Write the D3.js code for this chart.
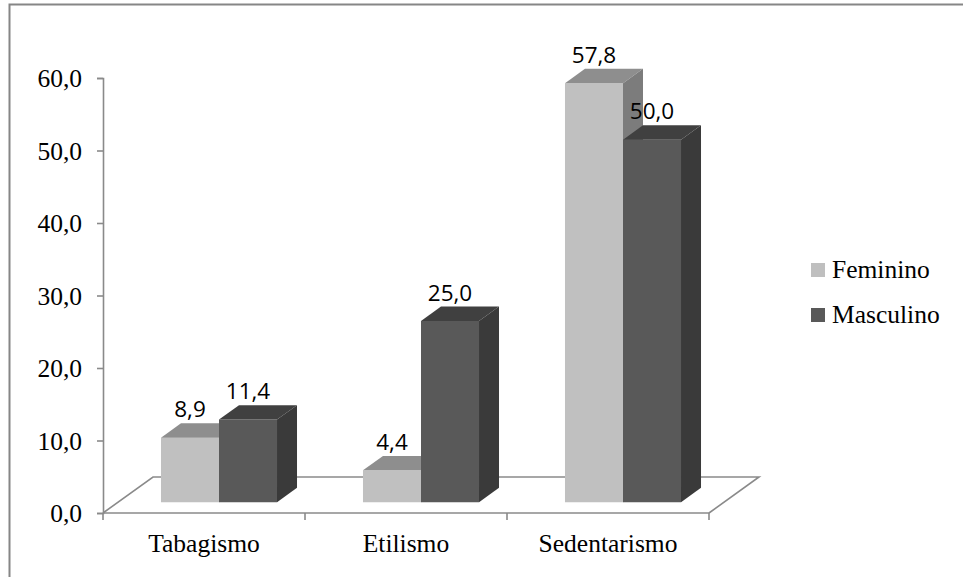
<!DOCTYPE html>
<html>
<head>
<meta charset="utf-8">
<script src="https://cdn.jsdelivr.net/npm/d3@7/dist/d3.min.js"></script>
<style>
  html, body { margin: 0; padding: 0; background: #fff; }
  svg { display: block; }
</style>
</head>
<body>
<svg id="chart" width="963" height="577"></svg>
<script>
// Data
const categories = ["Tabagismo", "Etilismo", "Sedentarismo"];
const seriesNames = ["Feminino", "Masculino"];
const feminino = [8.9, 4.4, 57.8];
const masculino = [11.4, 25.0, 50.0];
const yTicks = [0, 10, 20, 30, 40, 50, 60];

const seriesValues = [feminino, masculino];
const fmt = v => v.toFixed(1).replace(".", ",");

// Shading per series: front, top, side faces
const faceColors = [
  { front: "#c0c0c0", top: "#8e8e8e", side: "#7c7c7c", legend: "#bfbfbf" },
  { front: "#595959", top: "#404040", side: "#3a3a3a", legend: "#595959" }
];

const svg = d3.select("#chart");

// Outer frame
svg.append("rect")
  .attr("x", 9.5).attr("y", 4.5)
  .attr("width", 1000).attr("height", 600)
  .attr("fill", "none").attr("stroke", "#868686").attr("stroke-width", 2);

// Plot geometry
const x0 = d3.scaleBand().domain(categories).range([103, 709]);
const x1 = d3.scaleBand().domain(seriesNames).range([0, x0.bandwidth()]).paddingOuter(0.741);
const y = d3.scaleLinear().domain([0, 60]).range([513, 78]);
// Oblique depth vector of the floor
const depth = { dx: 50, dy: -36 };
const zFront = 0.3, zBack = 0.7;
const P = (px, v, z) => [px + z * depth.dx, y(v) + z * depth.dy];

const axisColor = "#8a8a8a";

// Floor
const floorLines = svg.append("g").attr("fill", "none").attr("stroke", axisColor).attr("stroke-width", 1.6);
const [xl, xr] = x0.range();
floorLines.append("path").attr("d", d3.line()([P(xl, 0, 0), P(xl, 0, 1), P(xr, 0, 1), P(xr, 0, 0)]));

// Y axis
const yAxis = d3.axisLeft(y).tickValues(yTicks).tickSize(6).tickPadding(15).tickFormat(fmt);
const gy = svg.append("g").attr("transform", `translate(${xl},0)`).call(yAxis);
gy.select(".domain").attr("stroke", axisColor).attr("stroke-width", 1.6);
gy.selectAll(".tick line").attr("stroke", axisColor).attr("stroke-width", 1.6);
gy.selectAll(".tick text")
  .attr("font-family", "'Liberation Serif', 'Times New Roman', serif")
  .attr("font-size", 25.5).attr("fill", "#000").attr("dy", "0.34em");

// X axis (front edge of floor)
const gx = svg.append("g").attr("transform", `translate(0,${y(0)})`);
gx.append("line").attr("x1", xl).attr("x2", xr)
  .attr("stroke", axisColor).attr("stroke-width", 1.6);
const boundaries = [xl].concat(categories.map(c => x0(c) + x0.bandwidth()));
gx.selectAll("line.tick").data(boundaries).join("line").attr("class", "tick")
  .attr("x1", d => d).attr("x2", d => d).attr("y1", 0).attr("y2", 7)
  .attr("stroke", axisColor).attr("stroke-width", 1.6);
gx.selectAll("text").data(categories).join("text")
  .attr("x", d => x0(d) + x0.bandwidth() / 2).attr("y", 39)
  .attr("text-anchor", "middle")
  .attr("font-family", "'Liberation Serif', 'Times New Roman', serif")
  .attr("font-size", 25.5).attr("fill", "#000")
  .text(d => d);

// 3D bars
const bars = svg.append("g");
const labels = [];
categories.forEach((cat, ci) => {
  seriesNames.forEach((s, si) => {
    const v = seriesValues[si][ci];
    const a = x0(cat) + x1(s);
    const b = a + x1.bandwidth();
    const col = faceColors[si];
    const g = bars.append("g");
    // front
    g.append("path").attr("fill", col.front)
      .attr("d", d3.line()([P(a, 0, zFront), P(b, 0, zFront), P(b, v, zFront), P(a, v, zFront)]) + "Z");
    // top
    g.append("path").attr("fill", col.top)
      .attr("d", d3.line()([P(a, v, zFront), P(b, v, zFront), P(b, v, zBack), P(a, v, zBack)]) + "Z");
    // right side
    g.append("path").attr("fill", col.side)
      .attr("d", d3.line()([P(b, 0, zFront), P(b, 0, zBack), P(b, v, zBack), P(b, v, zFront)]) + "Z");
    labels.push({ x: P((a + b) / 2, v, zFront)[0], y: P(a, v, zBack)[1] - 6, v });
  });
});

// Value labels
svg.append("g").selectAll("text").data(labels).join("text")
  .attr("x", d => d.x).attr("y", d => d.y)
  .attr("text-anchor", "middle")
  .attr("font-family", "'Open Sans', 'Noto Sans', sans-serif")
  .attr("font-size", 22.5).attr("fill", "#000")
  .text(d => fmt(d.v));

// Legend
const legend = svg.append("g").attr("transform", "translate(811,263)");
const li = legend.selectAll("g").data(seriesNames).join("g")
  .attr("transform", (d, i) => `translate(0,${i * 45})`);
li.append("rect").attr("width", 14).attr("height", 14)
  .attr("fill", (d, i) => faceColors[i].legend);
li.append("text").attr("x", 21).attr("y", 15)
  .attr("font-family", "'Liberation Serif', 'Times New Roman', serif")
  .attr("font-size", 25.5).attr("fill", "#000")
  .text(d => d);
</script>
</body>
</html>
